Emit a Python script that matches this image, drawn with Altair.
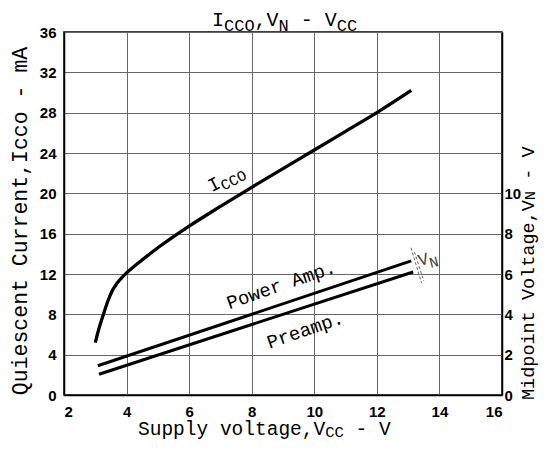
import altair as alt
import pandas as pd

# ---------------- data ----------------
icco_vcc = [3.0, 3.1, 3.24, 3.4, 3.55, 3.7, 3.85, 4.0, 4.5, 5.0, 6.0, 7.0, 8.0, 9.0, 10.0, 11.0, 12.0, 13.1]
icco_ma = [5.2, 6.4, 7.8, 9.3, 10.4, 11.1, 11.65, 12.1, 13.4, 14.6, 16.75, 18.7, 20.6, 22.45, 24.3, 26.15, 28.0, 30.2]

power_vcc = [3.08, 13.1]
power_vn = [1.45, 6.65]
pre_vcc = [3.12, 13.16]
pre_vn = [1.03, 6.1]

bracket_x = [13.09, 13.2]
bracket_x2 = [13.43, 13.5]
bracket_y = [7.3, 7.1]
bracket_y2 = [5.55, 5.65]

x_ticks = [2, 4, 6, 8, 10, 12, 14, 16]
left_ticks = [0, 4, 8, 12, 16, 20, 24, 28, 32, 36]
right_ticks = [0, 2, 4, 6, 8, 10]

# ---------------- layout ----------------
W, H = 438, 363
MONO = "Liberation Mono"
NUM = "'Liberation Sans Narrow', 'Liberation Sans', Arial"
one = pd.DataFrame({"a": [0]})

x_scale = alt.Scale(domain=[2, 16], nice=False, zero=False)
yl_scale = alt.Scale(domain=[0, 36], nice=False)
yr_scale = alt.Scale(domain=[0, 18], nice=False)

x_axis = alt.Axis(values=x_ticks, title=None, grid=True, labelPadding=9,
                  labelAngle=0)


def rich_text(segments, x, y, angle=0, color="black"):
    """Draw text pieces one after another (monospace advance 0.6 em)."""
    layers = []
    off = 0.0
    for text, size, dy in segments:
        adv = 0.6 * size
        lead = len(text) - len(text.lstrip())
        shown = text.strip()
        if shown:
            layers.append(
                alt.Chart(one).mark_text(
                    text=shown, font=MONO, fontSize=size, align="left",
                    baseline="alphabetic", angle=angle % 360,
                    dx=off + lead * adv, dy=dy, color=color,
                ).encode(x=x, y=y)
            )
        off += adv * len(text)
    return layers


# ----- left-scale layer: Icco -----
icco_df = pd.DataFrame({"vcc": icco_vcc, "icco": icco_ma})
icco_line = alt.Chart(icco_df).mark_line(
    color="black", strokeWidth=3.3, interpolate="monotone"
).encode(
    x=alt.X("vcc:Q", scale=x_scale, axis=x_axis),
    y=alt.Y("icco:Q", scale=yl_scale,
            axis=alt.Axis(values=left_ticks, title=None, orient="left",
                          grid=True, labelPadding=8)),
)

icco_label = rich_text(
    [("I", 19, 0), ("CCO", 15, 4)],
    alt.datum(6.72), alt.datum(20.1),
    angle=-27,
)

# titles drawn as text so that subscripts can be shown
title_parts = rich_text(
    [("I", 20, 0), ("CCO", 17, 5), (",", 20, 0), ("V", 20, 0), ("N", 17, 5),
     (" - ", 20, 0), ("V", 20, 0), ("CC", 17, 5)],
    alt.value(148), alt.value(-6),
)
xtitle_parts = rich_text(
    [("Supply voltage,V", 19.5, 0), ("CC", 15.5, 2), (" - V", 19.5, 0)],
    alt.value(74), alt.value(403),
)
ytitle_left = alt.Chart(one).mark_text(
    text="Quiescent Current,Icco - mA", font=MONO, fontSize=21.5,
    angle=270, align="center", baseline="middle", color="black",
).encode(x=alt.value(-43), y=alt.value(189))
ytitle_right = rich_text(
    [("Midpoint Voltage,V", 18.5, 0), ("N", 15.5, 1), (" - V", 18.5, 0)],
    alt.value(470), alt.value(368), angle=270,
)

layer_left = alt.layer(icco_line, *icco_label, *title_parts, *xtitle_parts,
                       ytitle_left, *ytitle_right)

# ----- right-scale layer: midpoint voltages -----
vn_df = pd.concat([
    pd.DataFrame({"vcc": power_vcc, "vn": power_vn, "s": "Power Amp."}),
    pd.DataFrame({"vcc": pre_vcc, "vn": pre_vn, "s": "Preamp."}),
])
vn_lines = alt.Chart(vn_df).mark_line(color="black", strokeWidth=3).encode(
    x=alt.X("vcc:Q", scale=x_scale, axis=x_axis),
    y=alt.Y("vn:Q", scale=yr_scale,
            axis=alt.Axis(values=right_ticks, title=None, orient="right",
                          grid=False, labelPadding=2)),
    detail="s:N",
)

br_df = pd.DataFrame({"x": bracket_x, "x2": bracket_x2, "y": bracket_y, "y2": bracket_y2})
bracket = alt.Chart(br_df).mark_rule(color="#666", strokeWidth=1, strokeDash=[3, 2]).encode(
    x="x:Q", x2="x2:Q", y="y:Q", y2="y2:Q",
)


def vn_text(text, xv, yv):
    return alt.Chart(one).mark_text(
        text=text, font=MONO, fontSize=19, angle=341, align="center",
        baseline="middle", color="black",
    ).encode(x=alt.datum(xv), y=alt.datum(yv))


power_label = vn_text("Power Amp.", 8.94, 5.46)
pre_label = vn_text("Preamp.", 9.71, 3.22)
vn_label = rich_text(
    [("V", 17, 0), ("N", 15, 5)],
    alt.datum(13.37), alt.datum(6.4),
    angle=-15, color="#444",
)

layer_right = alt.layer(vn_lines, bracket, power_label, pre_label, *vn_label)

chart = alt.layer(layer_left, layer_right).resolve_scale(
    y="independent"
).properties(
    width=W, height=H,
    autosize=alt.AutoSizeParams(type="none"),
    padding={"left": 56, "top": 24, "right": 38, "bottom": 46},
    background="white",
).configure_view(
    stroke="black", strokeWidth=1.5
).configure_axis(
    labelFont=NUM, labelFontSize=15, labelFontWeight="bold",
    labelColor="black", ticks=False, domainColor="black", domainWidth=1.5,
    gridColor="#666", gridWidth=1,
)

chart.save("out.html", embed_options={"renderer": "svg", "actions": False})
